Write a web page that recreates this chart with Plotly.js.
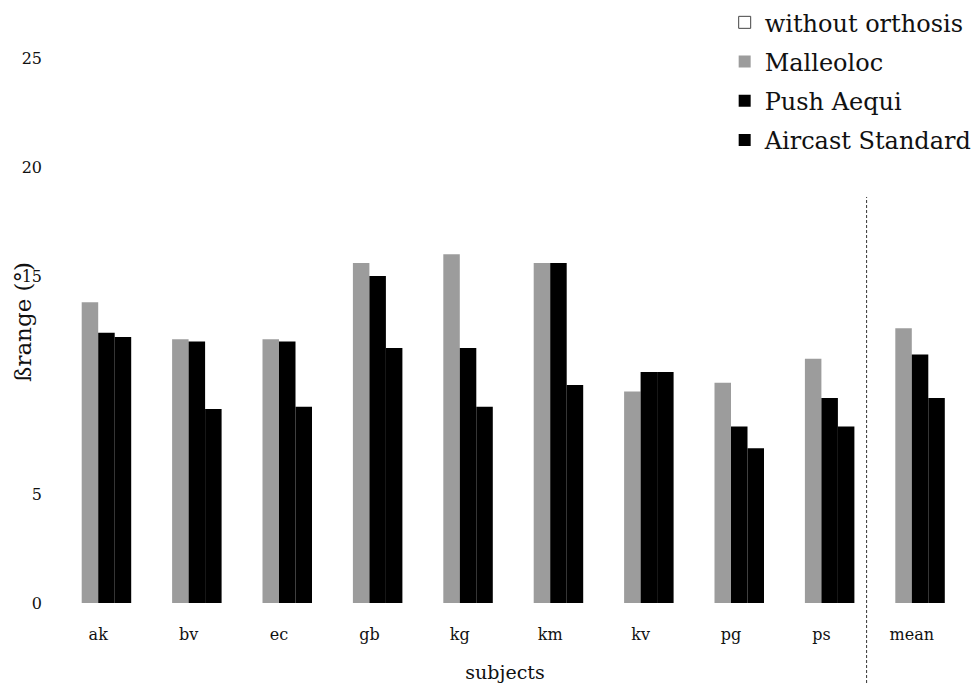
<!DOCTYPE html>
<html>
<head>
<meta charset="utf-8">
<script src="https://cdn.plot.ly/plotly-3.0.1.min.js"></script>
<style>html,body{margin:0;padding:0;background:#fff;}#chart{width:972px;height:685px;}</style>
</head>
<body>
<div id="chart"></div>
<script>
// Data (ßrange in degrees)
const subjects = ["ak", "bv", "ec", "gb", "kg", "km", "kv", "pg", "ps", "mean"];
const withoutOrthosis = [null, null, null, null, null, null, null, null, null, null];
const malleoloc = [13.8, 12.1, 12.1, 15.6, 16.0, 15.6, 9.7, 10.1, 11.2, 12.6];
const pushAequi = [12.4, 12.0, 12.0, 15.0, 11.7, 15.6, 10.6, 8.1, 9.4, 11.4];
const aircastStandard = [12.2, 8.9, 9.0, 11.7, 9.0, 10.0, 10.6, 7.1, 8.1, 9.4];
const seriesNames = ["without orthosis", "Malleoloc", "Push Aequi", "Aircast Standard"];
const yTickVals = [0, 5, 15, 20, 25];
const yTickText = ["0", "5", "15", "20", "25"];

const FONT = "DejaVu Serif, Liberation Serif, serif";

const traces = [
  {
    type: "bar", name: seriesNames[0], x: subjects, y: withoutOrthosis,
    legendgroup: "g0",
    marker: {color: "#ffffff", line: {color: "#444", width: 1}}
  },
  {
    type: "bar", name: seriesNames[1], x: subjects, y: malleoloc,
    legendgroup: "g1",
    marker: {color: "#b8b8b8", line: {width: 0},
      pattern: {shape: ".", fgcolor: "#555555", bgcolor: "#d4d4d4", size: 2, solidity: 0.5}}
  },
  {
    type: "bar", name: seriesNames[2], x: subjects, y: pushAequi,
    legendgroup: "g2",
    marker: {color: "#000000", line: {width: 0}}
  },
  {
    type: "bar", name: seriesNames[3], x: subjects, y: aircastStandard,
    legendgroup: "g3",
    marker: {color: "#000000", line: {width: 0}}
  }
];

const layout = {
  width: 972, height: 685,
  paper_bgcolor: "#ffffff", plot_bgcolor: "#ffffff",
  font: {family: FONT, color: "#111", size: 16},
  margin: {l: 53, r: 15, t: 58, b: 82, pad: 0, autoexpand: false},
  barmode: "group", bargap: 0.27, bargroupgap: 0,
  showlegend: true,
  legend: {
    x: 0.743, xanchor: "left", y: 1.106, yanchor: "top",
    font: {family: FONT, size: 24, color: "#111"},
    bgcolor: "rgba(0,0,0,0)", borderwidth: 0,
    traceorder: "grouped", tracegroupgap: 5
  },
  xaxis: {
    type: "category", showgrid: false, zeroline: false, showline: false, ticks: "",
    tickfont: {family: FONT, size: 16, color: "#111"},
    ticklabelstandoff: 20,
    title: {text: "subjects", font: {family: FONT, size: 19, color: "#111"}, standoff: 22}
  },
  yaxis: {
    range: [0, 25], showgrid: false, zeroline: false, showline: false, ticks: "",
    tickvals: yTickVals, ticktext: yTickText,
    tickfont: {family: FONT, size: 16, color: "#111"},
    ticklabelstandoff: 10
  },
  shapes: [
    {type: "line", xref: "x", yref: "paper", x0: 8.5, x1: 8.5, y0: -0.156, y1: 0.745,
     line: {color: "#333", width: 1, dash: "3px,2px"}}
  ],
  annotations: [
    {text: "ßrange (°)", xref: "paper", yref: "paper", x: -0.033, y: 0.516,
     xanchor: "center", yanchor: "middle", textangle: -90, showarrow: false,
     font: {family: FONT, size: 23, color: "#111"}}
  ]
};

Plotly.newPlot("chart", traces, layout, {staticPlot: true, displayModeBar: false});
</script>
</body>
</html>
